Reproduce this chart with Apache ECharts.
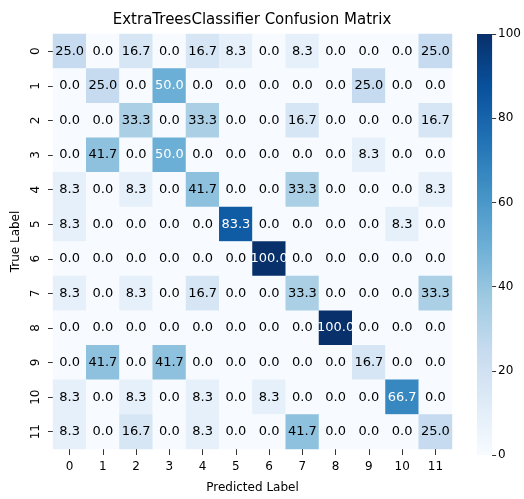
<!DOCTYPE html>
<html>
<head>
<meta charset="utf-8">
<script src="https://cdn.jsdelivr.net/npm/echarts@6/dist/echarts.min.js"></script>
<style>
  html, body { margin: 0; padding: 0; background: #fff; }
  #chart { width: 524px; height: 499px; }
</style>
</head>
<body>
<div id="chart"></div>
<script>
// class labels for both axes
const labels = ['0', '1', '2', '3', '4', '5', '6', '7', '8', '9', '10', '11'];

// confusion matrix rows (true label), percent of row
const row0 = [25.0, 0.0, 16.7, 0.0, 16.7, 8.3, 0.0, 8.3, 0.0, 0.0, 0.0, 25.0];
const row1 = [0.0, 25.0, 0.0, 50.0, 0.0, 0.0, 0.0, 0.0, 0.0, 25.0, 0.0, 0.0];
const row2 = [0.0, 0.0, 33.3, 0.0, 33.3, 0.0, 0.0, 16.7, 0.0, 0.0, 0.0, 16.7];
const row3 = [0.0, 41.7, 0.0, 50.0, 0.0, 0.0, 0.0, 0.0, 0.0, 8.3, 0.0, 0.0];
const row4 = [8.3, 0.0, 8.3, 0.0, 41.7, 0.0, 0.0, 33.3, 0.0, 0.0, 0.0, 8.3];
const row5 = [8.3, 0.0, 0.0, 0.0, 0.0, 83.3, 0.0, 0.0, 0.0, 0.0, 8.3, 0.0];
const row6 = [0.0, 0.0, 0.0, 0.0, 0.0, 0.0, 100.0, 0.0, 0.0, 0.0, 0.0, 0.0];
const row7 = [8.3, 0.0, 8.3, 0.0, 16.7, 0.0, 0.0, 33.3, 0.0, 0.0, 0.0, 33.3];
const row8 = [0.0, 0.0, 0.0, 0.0, 0.0, 0.0, 0.0, 0.0, 100.0, 0.0, 0.0, 0.0];
const row9 = [0.0, 41.7, 0.0, 41.7, 0.0, 0.0, 0.0, 0.0, 0.0, 16.7, 0.0, 0.0];
const row10 = [8.3, 0.0, 8.3, 0.0, 8.3, 0.0, 8.3, 0.0, 0.0, 0.0, 66.7, 0.0];
const row11 = [8.3, 0.0, 16.7, 0.0, 8.3, 0.0, 0.0, 41.7, 0.0, 0.0, 0.0, 25.0];
const matrix = [row0, row1, row2, row3, row4, row5, row6, row7, row8, row9, row10, row11];

// colorbar ticks
const barTicks = [0, 20, 40, 60, 80, 100];

// matplotlib "Blues"
const blues = ['#f7fbff', '#deebf7', '#c6dbef', '#9ecae1', '#6baed6', '#4292c6', '#2171b5', '#08519c', '#08306b'];

const cells = [];
matrix.forEach((row, y) => {
  row.forEach((v, x) => {
    cells.push({
      value: [x, y, v],
      label: { color: v >= 45 ? '#ffffff' : '#000000' }
    });
  });
});

const chart = echarts.init(document.getElementById('chart'));

const option = {
  animation: false,
  textStyle: { fontFamily: 'DejaVu Sans' },
  title: {
    text: 'ExtraTreesClassifier Confusion Matrix',
    left: 252,
    top: 13,
    padding: 0,
    textAlign: 'center',
    textStyle: { fontSize: 15, fontWeight: 'normal', color: '#000', fontFamily: 'DejaVu Sans' }
  },
  grid: [
    { left: 53, top: 34, width: 399, height: 421 },
    { left: 477, top: 34, width: 18, height: 421 }
  ],
  xAxis: [{
    type: 'category',
    data: labels,
    gridIndex: 0,
    name: 'Predicted Label',
    nameLocation: 'middle',
    nameGap: 33,
    nameTextStyle: { fontSize: 12, color: '#000' },
    axisLine: { show: false },
    axisTick: { show: true, alignWithLabel: true, length: 6, lineStyle: { color: '#333' } },
    axisLabel: { fontSize: 12, color: '#000', margin: 12 },
    splitLine: { show: false }
  }, {
    type: 'category',
    data: [''],
    gridIndex: 1,
    show: false
  }],
  yAxis: [{
    type: 'category',
    data: labels,
    gridIndex: 0,
    inverse: true,
    name: 'True Label',
    nameLocation: 'middle',
    nameGap: 30,
    nameTextStyle: { fontSize: 12, color: '#000' },
    axisLine: { show: false },
    axisTick: { show: true, alignWithLabel: true, length: 5, lineStyle: { color: '#333' } },
    axisLabel: { fontSize: 12, color: '#000', rotate: 90, margin: 11 },
    splitLine: { show: false }
  }, {
    type: 'value',
    gridIndex: 1,
    position: 'right',
    min: 0,
    max: 100,
    interval: 20,
    axisLine: { show: false },
    axisTick: { show: true, length: 4, lineStyle: { color: '#333' } },
    axisLabel: { fontSize: 12, color: '#000', margin: 6 },
    splitLine: { show: false }
  }],
  visualMap: {
    show: false,
    seriesIndex: 0,
    min: 0,
    max: 100,
    inRange: { color: blues }
  },
  series: [{
    type: 'heatmap',
    xAxisIndex: 0,
    yAxisIndex: 0,
    data: cells,
    label: {
      show: true,
      fontSize: 13,
      formatter: p => p.value[2].toFixed(1)
    },
    emphasis: { disabled: true }
  }, {
    type: 'bar',
    xAxisIndex: 1,
    yAxisIndex: 1,
    barWidth: '100%',
    data: [barTicks[barTicks.length - 1]],
    itemStyle: {
      color: new echarts.graphic.LinearGradient(0, 1, 0, 0,
        blues.map((c, i) => ({ offset: i / (blues.length - 1), color: c })))
    },
    silent: true
  }]
};

chart.setOption(option);
window.onresize = function () {
  chart.resize();
};
</script>
</body>
</html>
